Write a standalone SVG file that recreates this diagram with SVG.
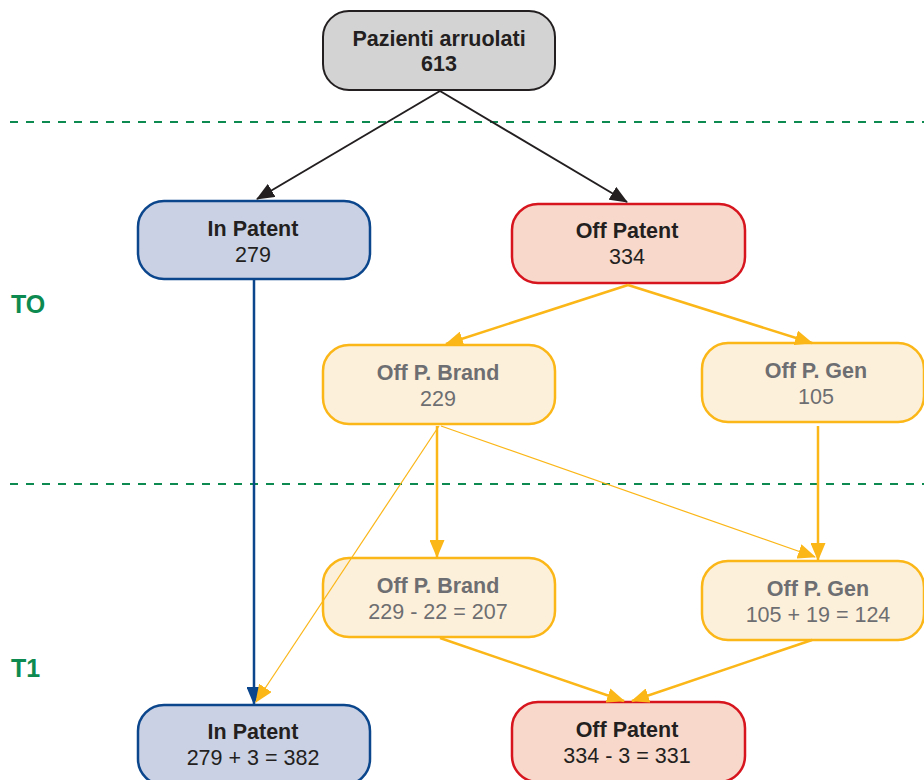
<svg xmlns="http://www.w3.org/2000/svg" width="924" height="780" viewBox="0 0 924 780">
<style>
text{font-family:'Liberation Sans',Arial,Helvetica,sans-serif;font-size:21.5px;text-anchor:middle}
.b{font-weight:bold}
.dk{fill:#231f20}
.gy{fill:#6d6e71}
.gray rect{fill:#d3d3d4;stroke:#231f20;stroke-width:2}
.blue rect{fill:#cad1e4;stroke:#0b468c;stroke-width:2.5}
.red rect{fill:#f7d8cb;stroke:#d7151f;stroke-width:2.5}
.yel rect{fill:#fdf0da;stroke:#fbb617;stroke-width:2.5}
.dash{stroke:#0c8a4f;stroke-width:1.8;stroke-dasharray:8 8;fill:none}
.lbl{font-weight:bold;fill:#0c8a4f;font-size:25px;text-anchor:start}
.ck{stroke:#231f20;stroke-width:2;fill:none}
.cb{stroke:#0b468c;stroke-width:2.5;fill:none}
.cy{stroke:#fbb617;stroke-width:2.5;fill:none}
.cyt{stroke:#fbb617;stroke-width:1.2;fill:none}
</style>
<defs>
<marker id="ak" markerUnits="userSpaceOnUse" markerWidth="18" markerHeight="15" refX="17" refY="7.5" orient="auto"><path d="M0,0 L18,7.5 L0,15 Z" fill="#231f20"/></marker>
<marker id="ab" markerUnits="userSpaceOnUse" markerWidth="18" markerHeight="15" refX="17" refY="7.5" orient="auto"><path d="M0,0 L18,7.5 L0,15 Z" fill="#0b468c"/></marker>
<marker id="ay" markerUnits="userSpaceOnUse" markerWidth="18" markerHeight="15" refX="17" refY="7.5" orient="auto"><path d="M0,0 L18,7.5 L0,15 Z" fill="#fbb617"/></marker>
</defs>
<line class="dash" x1="10" y1="122" x2="924" y2="122"/>
<line class="dash" x1="10" y1="484" x2="924" y2="484"/>
<text class="lbl" x="11" y="313">TO</text>
<text class="lbl" x="11" y="677">T1</text>
<g id="n0" class="gray"><rect x="323" y="11" width="232" height="79" rx="26"/><text class="b dk" x="439" y="46">Pazienti arruolati</text><text class="b dk" x="439" y="71">613</text></g>
<g id="n1" class="blue"><rect x="138" y="201" width="232" height="78" rx="26"/><text class="b dk" x="253" y="236">In Patent</text><text class="dk" x="253" y="262">279</text></g>
<g id="n2" class="red"><rect x="512" y="204" width="233" height="79" rx="26"/><text class="b dk" x="627" y="238">Off Patent</text><text class="dk" x="627" y="264">334</text></g>
<g id="n3" class="yel"><rect x="323" y="345" width="232" height="79" rx="26"/><text class="b gy" x="438" y="380">Off P. Brand</text><text class="gy" x="438" y="406">229</text></g>
<g id="n4" class="yel"><rect x="702" y="343" width="222" height="79" rx="26"/><text class="b gy" x="816" y="378">Off P. Gen</text><text class="gy" x="816" y="404">105</text></g>
<g id="n5" class="yel"><rect x="323" y="558" width="232" height="79" rx="26"/><text class="b gy" x="438" y="593">Off P. Brand</text><text class="gy" x="438" y="619">229 - 22 = 207</text></g>
<g id="n6" class="yel"><rect x="702" y="561" width="222" height="79" rx="26"/><text class="b gy" x="818" y="596">Off P. Gen</text><text class="gy" x="818" y="622">105 + 19 = 124</text></g>
<g id="n7" class="blue"><rect x="138" y="705" width="232" height="80" rx="26"/><text class="b dk" x="253" y="739">In Patent</text><text class="dk" x="253" y="765">279 + 3 = 382</text></g>
<g id="n8" class="red"><rect x="512" y="702" width="233" height="80" rx="26"/><text class="b dk" x="627" y="737">Off Patent</text><text class="dk" x="627" y="763">334 - 3 = 331</text></g>
<g id="connectors">
<line class="ck" x1="440" y1="91" x2="257" y2="199" marker-end="url(#ak)"/>
<line class="ck" x1="440" y1="91" x2="627" y2="202" marker-end="url(#ak)"/>
<line class="cb" x1="254" y1="280" x2="254" y2="704" marker-end="url(#ab)"/>
<line class="cy" x1="628" y1="285" x2="446" y2="344" marker-end="url(#ay)"/>
<line class="cy" x1="628" y1="285" x2="812" y2="343" marker-end="url(#ay)"/>
<line class="cy" x1="437" y1="426" x2="437" y2="557" marker-end="url(#ay)"/>
<line class="cyt" x1="439" y1="426" x2="256" y2="702" marker-end="url(#ay)"/>
<line class="cyt" x1="441" y1="426" x2="815" y2="557" marker-end="url(#ay)"/>
<line class="cy" x1="818" y1="426" x2="818" y2="560" marker-end="url(#ay)"/>
<line class="cy" x1="440" y1="638" x2="624" y2="701" marker-end="url(#ay)"/>
<line class="cy" x1="812" y1="640" x2="632" y2="701" marker-end="url(#ay)"/>
</g>
</svg>
